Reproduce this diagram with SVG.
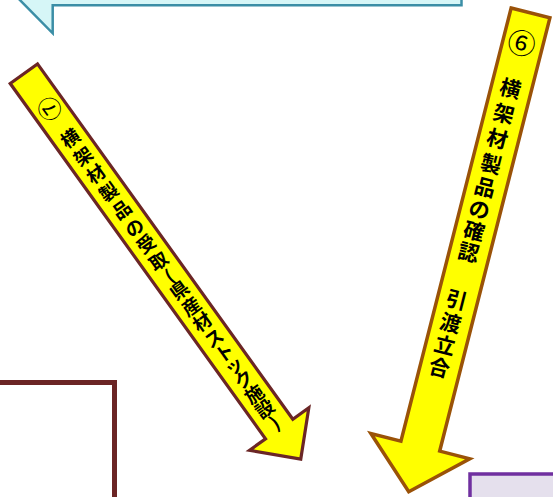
<svg xmlns="http://www.w3.org/2000/svg" width="553" height="497" viewBox="0 0 553 497">
<style>
.arr{fill:#ffff00;stroke-linejoin:miter;stroke-miterlimit:10}
.a6{stroke:#9a5208;stroke-width:3.5}
.a7{stroke:#6b2626;stroke-width:3.2}
.t{font-family:"Noto Sans CJK JP","Noto Sans",sans-serif;font-weight:bold;fill:#000;text-anchor:middle;dominant-baseline:central}
.t6{font-size:21px}
.t7{font-size:18.5px}
.num{font-weight:normal}
</style>
<rect x="0" y="0" width="553" height="497" fill="#ffffff"/>
<g id="callout">
<polygon points="10,-10 52.7,33.3 52.7,5.3 461.5,5.3 461.5,-10" fill="#d6f6f7" stroke="#3b8ea6" stroke-width="2.5"/>
</g>
<g id="box-left">
<rect x="-10" y="382.5" width="124.5" height="200" fill="#ffffff" stroke="#6b2525" stroke-width="5"/>
</g>
<g id="box-right">
<rect x="470" y="474" width="100" height="50" fill="#e5e0ed" stroke="#7030a0" stroke-width="3.5"/>
</g>
<g id="connectors">
<g id="arrow6" transform="translate(531,11) rotate(14.27)">
<polygon class="arr a6" points="-20,2 20,2 20,449 51,449 0,496 -51,449 -20,449"/>
<g class="t t6">
<text class="num" x="-1" y="32" font-size="28">⑥</text>
<text x="-1" y="79">横</text>
<text x="-1" y="105">架</text>
<text x="-1" y="131">材</text>
<text x="-1" y="157">製</text>
<text x="-1" y="181">品</text>
<text x="-1" y="204">の</text>
<text x="-1" y="226">確</text>
<text x="-1" y="248">認</text>
<text x="-1" y="297">引</text>
<text x="-1" y="321">渡</text>
<text x="-1" y="344">立</text>
<text x="-1" y="367">合</text>
</g>
</g>
<g id="arrow7" transform="translate(23,72.5) rotate(-35.7)">
<polygon class="arr a7" points="-16.8,1.5 16.8,1.5 16.8,439 36.5,439 0,476 -36.5,439 -16.8,439"/>
<g class="t t7">
<text class="num" x="0" y="0" font-size="24" transform="translate(-1,45) rotate(-90)">⑦</text>
<text x="0" y="80">横</text>
<text x="0" y="102">架</text>
<text x="0" y="124">材</text>
<text x="0" y="146">製</text>
<text x="0" y="168">品</text>
<text x="0" y="190">の</text>
<text x="0" y="210">受</text>
<text x="0" y="231">取</text>
<text x="0" y="250">(</text>
<text x="0" y="267">県</text>
<text x="0" y="287">産</text>
<text x="0" y="306">材</text>
<text x="0" y="326">ス</text>
<text x="0" y="344">ト</text>
<text x="0" y="360">ッ</text>
<text x="0" y="377">ク</text>
<text x="0" y="395">施</text>
<text x="0" y="413">設</text>
<text x="0" y="430">)</text>
</g>
</g>
</g>
</svg>
